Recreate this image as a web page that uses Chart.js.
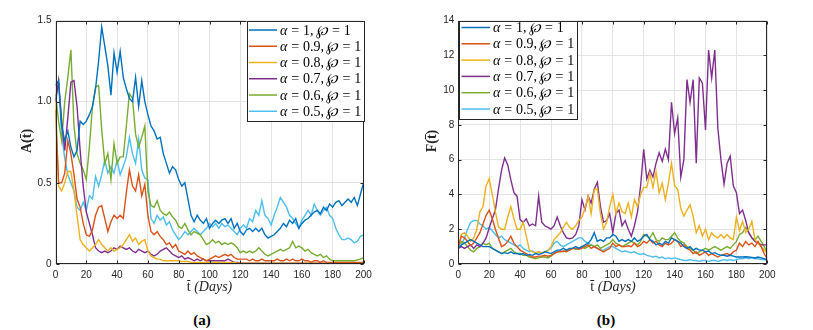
<!DOCTYPE html>
<html>
<head>
<meta charset="utf-8">
<script src="https://cdn.jsdelivr.net/npm/chart.js@4.4.0/dist/chart.umd.min.js"></script>
<style>
  body { margin: 0; background: #fff; width: 813px; height: 330px; position: relative; overflow: hidden; }
  .panel { position: absolute; top: 0; height: 300px; }
  canvas { display: block; }
  .lab { position: absolute; font-family: 'Liberation Serif', serif; font-size: 14px; color: #262626;
         transform: translate(-50%, -50%); white-space: nowrap; line-height: 16px; }
  .ylab { font-weight: bold; transform: translate(-50%, -50%) rotate(-90deg); }
  .bar { display: inline-block; border-top: 1px solid #262626; line-height: 9px; padding-top: 1px; vertical-align: baseline; }
  .cap { font-weight: bold; font-size: 15px; color: #000; }
</style>
</head>
<body>
<div class="panel" style="left:0;width:406px"><canvas id="chartA" width="406" height="300"></canvas></div>
<div class="panel" style="left:406px;width:407px"><canvas id="chartF" width="407" height="300"></canvas></div>

<div class="lab" style="left:209.5px;top:287px"><span class="bar">t</span> <i>(Days)</i></div>
<div class="lab" style="left:613px;top:287px"><span class="bar">t</span> <i>(Days)</i></div>
<div class="lab ylab" style="left:27px;top:141px">A(<span class="bar">t</span>)</div>
<div class="lab ylab" style="left:432px;top:141px">F(<span class="bar">t</span>)</div>
<div class="lab cap" style="left:202px;top:320px">(a)</div>
<div class="lab cap" style="left:606px;top:320px">(b)</div>

<script>
// time axis, every 2 days
const days = [0,2,4,6,8,10,12,14,16,18,20,22,24,26,28,30,32,34,36,38,40,42,44,46,48,50,52,54,56,58,60,
  62,64,66,68,70,72,74,76,78,80,82,84,86,88,90,92,94,96,98,100,102,104,106,108,110,112,114,116,118,120,
  122,124,126,128,130,132,134,136,138,140,142,144,146,148,150,152,154,156,158,160,
  162,164,166,168,170,172,174,176,178,180,182,184,186,188,190,192,194,196,198,200];

const alphas = ['1', '0.9', '0.8', '0.7', '0.6', '0.5'];
const colors = ['#0072BD', '#D95319', '#EDB120', '#7E2F8E', '#77AC30', '#4DBEEE'];

// panel (a): A(t)
const A_a1 = [1.10,1.13,0.85,0.76,0.82,0.72,0.66,0.70,0.88,0.86,0.88,
  0.92,0.97,1.08,1.25,1.46,1.34,1.22,1.04,1.30,1.18,
  1.31,1.15,1.08,1.02,1.00,1.15,0.97,1.13,1.00,0.92,
  0.85,0.82,0.77,0.78,0.68,0.62,0.56,0.60,0.58,0.52,
  0.48,0.50,0.40,0.30,0.26,0.30,0.27,0.25,0.28,0.22,
  0.25,0.27,0.25,0.27,0.28,0.25,0.28,0.22,0.25,0.20,
  0.18,0.21,0.22,0.20,0.22,0.20,0.22,0.18,0.16,0.17,
  0.18,0.20,0.22,0.25,0.23,0.27,0.25,0.28,0.22,0.25,
  0.27,0.28,0.30,0.32,0.33,0.31,0.35,0.33,0.37,0.35,
  0.38,0.39,0.36,0.38,0.40,0.38,0.41,0.36,0.43,0.50];
const A_a09 = [0.95,0.50,0.50,0.56,0.76,0.68,0.55,0.40,0.35,0.25,0.18,
  0.17,0.21,0.30,0.35,0.36,0.28,0.20,0.26,0.30,0.28,
  0.30,0.28,0.44,0.58,0.48,0.45,0.55,0.42,0.49,0.30,
  0.20,0.18,0.20,0.17,0.15,0.12,0.13,0.10,0.12,0.08,
  0.07,0.06,0.08,0.06,0.07,0.05,0.04,0.03,0.02,0.03,
  0.04,0.05,0.04,0.05,0.06,0.05,0.06,0.04,0.03,0.03,
  0.03,0.03,0.02,0.03,0.02,0.02,0.03,0.02,0.02,0.02,
  0.02,0.03,0.02,0.02,0.03,0.02,0.03,0.02,0.02,0.03,
  0.02,0.02,0.01,0.02,0.02,0.01,0.02,0.01,0.01,0.01,
  0.01,0.01,0.01,0.01,0.01,0.01,0.01,0.01,0.01,0.01];
const A_a08 = [1.00,0.48,0.45,0.50,0.57,0.57,0.45,0.30,0.15,0.12,0.10,
  0.08,0.10,0.12,0.15,0.12,0.10,0.08,0.10,0.08,0.09,
  0.10,0.12,0.15,0.18,0.14,0.16,0.12,0.14,0.15,0.08,
  0.05,0.04,0.03,0.03,0.02,0.02,0.02,0.02,0.02,0.02,
  0.015,0.015,0.015,0.01,0.01,0.01,0.01,0.01,0.01,0.01,
  0.01,0.01,0.01,0.01,0.01,0.01,0.01,0.01,0.005,0.005,
  0.005,0.005,0.005,0.005,0.005,0.005,0.005,0.005,0.005,0.005,
  0.005,0.005,0.005,0.005,0.005,0.005,0.005,0.005,0.005,0.005,
  0.005,0.005,0.005,0.005,0.005,0.005,0.005,0.005,0.005,0.005,
  0.005,0.005,0.005,0.005,0.005,0.005,0.005,0.005,0.005,0.005];
const A_a07 = [1.00,1.13,0.88,0.70,0.90,1.12,1.13,0.97,0.70,0.48,0.32,
  0.25,0.18,0.10,0.08,0.07,0.08,0.07,0.08,0.10,0.09,
  0.11,0.10,0.09,0.10,0.08,0.07,0.09,0.08,0.07,0.08,
  0.06,0.05,0.06,0.08,0.09,0.10,0.08,0.06,0.05,0.04,
  0.05,0.03,0.04,0.03,0.02,0.03,0.02,0.03,0.02,0.02,
  0.02,0.02,0.02,0.02,0.02,0.03,0.02,0.01,0.01,0.005,
  0.005,0.005,0.005,0.005,0.005,0.005,0.005,0.005,0.005,0.005,
  0.005,0.005,0.005,0.005,0.005,0.005,0.005,0.005,0.005,0.005,
  0.005,0.005,0.005,0.005,0.005,0.005,0.005,0.005,0.005,0.005,
  0.005,0.005,0.005,0.005,0.005,0.005,0.005,0.005,0.005,0.005];
const A_a06 = [1.05,0.88,0.76,1.00,1.15,1.32,0.85,0.68,0.62,0.58,0.52,
  0.72,0.97,1.09,1.10,0.83,0.62,0.68,0.52,0.74,0.62,
  0.66,0.66,0.85,1.05,1.02,0.80,0.72,0.78,0.85,0.45,
  0.36,0.35,0.39,0.33,0.31,0.30,0.32,0.29,0.27,0.23,
  0.22,0.25,0.21,0.18,0.20,0.19,0.18,0.15,0.12,0.13,
  0.15,0.13,0.14,0.12,0.13,0.12,0.13,0.12,0.10,0.07,
  0.08,0.07,0.08,0.07,0.08,0.10,0.08,0.06,0.05,0.06,
  0.07,0.08,0.09,0.08,0.09,0.10,0.14,0.10,0.11,0.10,
  0.08,0.09,0.07,0.06,0.05,0.06,0.04,0.05,0.03,0.02,
  0.02,0.02,0.02,0.02,0.02,0.02,0.02,0.025,0.03,0.04];
const A_a05 = [1.00,1.12,0.80,0.65,0.55,0.50,0.45,0.35,0.33,0.38,0.33,
  0.42,0.40,0.54,0.48,0.55,0.64,0.56,0.60,0.56,0.64,
  0.55,0.60,0.66,0.78,0.68,0.62,0.77,0.58,0.53,0.52,
  0.28,0.25,0.30,0.27,0.29,0.24,0.26,0.21,0.18,0.15,
  0.17,0.20,0.18,0.20,0.22,0.20,0.18,0.20,0.22,0.25,
  0.23,0.25,0.22,0.25,0.23,0.24,0.22,0.20,0.18,0.22,
  0.24,0.22,0.28,0.26,0.33,0.30,0.39,0.30,0.28,0.24,
  0.30,0.35,0.41,0.38,0.35,0.30,0.28,0.25,0.22,0.27,
  0.30,0.33,0.30,0.37,0.33,0.30,0.33,0.35,0.30,0.28,
  0.22,0.18,0.15,0.15,0.16,0.15,0.13,0.14,0.17,0.18];

// panel (b): F(t)
const F_a1 = [0.90,1.10,1.20,1.30,1.40,1.30,1.20,1.10,1.00,1.00,1.00,
  0.90,0.80,0.70,0.60,0.65,0.60,0.70,0.60,0.60,0.55,
  0.60,0.50,0.55,0.50,0.60,0.55,0.60,0.70,0.65,0.60,
  0.70,0.80,0.80,0.90,0.80,0.90,0.90,1.00,0.90,1.00,
  1.10,1.20,1.40,1.80,1.30,1.40,1.30,1.50,1.50,1.70,
  1.60,1.30,1.40,1.30,1.40,1.30,1.50,1.30,1.40,1.60,
  1.70,1.40,1.30,1.10,1.20,1.10,1.30,1.20,1.50,1.40,
  1.30,1.20,1.00,0.90,1.00,0.80,0.90,0.80,0.80,0.70,
  0.75,0.60,0.65,0.55,0.50,0.50,0.45,0.50,0.45,0.40,
  0.40,0.40,0.42,0.40,0.38,0.35,0.40,0.35,0.30,0.25];
const F_a09 = [1.00,1.60,1.50,1.30,1.05,1.20,1.50,1.80,2.30,2.80,3.10,
  2.60,2.00,1.50,1.00,1.10,1.30,1.60,1.20,1.00,0.80,
  0.70,0.60,0.50,0.40,0.40,0.45,0.45,0.50,0.45,0.50,
  0.60,0.70,0.70,0.75,0.70,0.80,0.90,0.90,0.85,0.90,
  1.00,1.10,0.90,1.00,0.90,0.80,0.70,0.80,0.90,1.20,
  1.00,1.10,1.00,1.00,1.05,1.00,1.20,1.00,1.10,1.30,
  1.20,1.40,1.20,1.30,1.10,1.00,1.20,1.10,1.20,1.40,
  1.30,1.00,1.10,0.90,0.80,0.60,0.70,0.50,0.60,0.70,
  0.50,0.60,0.50,0.40,0.50,0.55,0.60,0.50,0.70,0.80,
  1.20,1.00,1.30,1.10,1.20,1.00,1.30,1.00,0.60,0.30];
const F_a08 = [1.00,1.70,1.80,1.60,1.30,1.50,2.00,3.00,3.30,4.50,4.90,
  4.00,3.00,2.14,2.00,2.00,2.70,3.30,2.60,2.00,2.00,
  2.40,1.60,0.80,0.70,0.65,0.70,0.65,0.70,0.75,1.00,
  1.40,1.60,1.80,2.10,2.40,2.10,2.00,2.20,2.50,2.70,
  3.20,3.90,2.90,4.30,4.30,2.90,2.00,2.40,3.30,4.00,
  2.90,3.50,3.00,2.90,3.50,2.70,3.70,3.30,4.00,4.40,
  4.40,5.20,4.40,5.30,4.10,4.65,3.70,4.65,5.80,4.50,
  4.30,3.20,2.75,3.10,3.40,2.75,1.80,2.20,1.60,2.00,
  1.40,1.80,1.60,1.50,1.70,1.50,1.70,1.50,1.40,2.70,
  1.90,2.45,1.80,2.00,2.45,1.40,1.20,1.00,0.80,0.60];
const F_a07 = [0.90,1.00,0.90,1.00,1.10,0.90,1.10,1.00,1.20,1.50,2.07,
  2.60,3.10,4.30,5.40,6.10,5.70,4.85,4.10,3.90,2.55,
  2.40,2.60,2.20,2.30,2.20,3.90,2.40,2.20,2.10,2.00,
  2.20,2.70,2.20,1.80,1.50,1.45,1.50,1.70,2.20,3.70,
  3.10,3.90,3.50,4.30,4.70,3.30,2.40,2.50,2.90,1.80,
  2.90,3.10,2.20,2.50,2.00,1.60,2.20,3.00,4.50,6.60,
  4.90,5.40,5.00,5.80,6.40,5.90,6.60,6.00,9.30,7.50,
  8.40,5.00,6.00,10.60,9.30,10.60,5.80,10.70,10.40,7.70,
  12.30,10.70,12.30,7.80,6.00,4.60,5.80,6.20,4.50,4.10,
  2.90,3.10,2.50,1.80,1.50,1.30,1.20,1.10,1.10,1.10];
const F_a06 = [1.00,1.30,1.20,1.00,0.80,0.70,0.90,1.00,1.20,1.10,1.20,
  0.90,0.80,0.70,0.60,0.70,0.80,0.90,0.70,0.60,0.60,
  0.50,0.50,0.40,0.35,0.30,0.35,0.40,0.40,0.35,0.45,
  0.60,0.70,0.75,0.70,0.80,0.80,0.90,0.85,0.90,1.00,
  0.90,1.00,1.10,1.00,1.10,0.90,1.00,1.10,1.20,1.40,
  1.20,1.10,1.00,1.10,1.20,1.30,1.20,1.10,1.30,1.70,
  1.60,1.50,1.80,1.40,1.30,1.50,1.40,1.40,1.60,1.80,
  1.50,1.30,1.20,1.00,0.90,0.80,0.60,0.70,0.80,0.90,
  0.80,0.90,1.00,0.90,0.80,0.90,1.00,0.90,1.10,1.30,
  1.70,1.80,2.10,1.80,1.50,1.40,1.60,1.30,1.00,0.60];
const F_a05 = [0.90,1.10,1.50,2.00,2.40,2.50,2.50,2.30,2.20,2.00,2.10,
  1.90,1.70,1.50,1.60,1.40,1.30,1.20,1.10,1.00,1.10,
  0.90,0.80,0.70,0.75,0.60,0.70,0.60,0.70,0.80,0.90,
  1.20,1.30,1.10,1.00,1.10,1.20,1.30,1.40,1.50,1.50,
  1.30,1.20,1.10,1.00,0.90,0.80,0.80,0.90,1.00,1.00,
  0.90,0.80,0.70,0.75,0.70,0.65,0.70,0.60,0.55,0.60,
  0.50,0.45,0.40,0.45,0.35,0.40,0.30,0.35,0.30,0.35,
  0.30,0.25,0.20,0.20,0.25,0.20,0.20,0.15,0.20,0.20,
  0.15,0.20,0.20,0.15,0.20,0.25,0.20,0.25,0.20,0.25,
  0.30,0.30,0.35,0.30,0.35,0.30,0.30,0.25,0.25,0.20];

const seriesA = [A_a1, A_a09, A_a08, A_a07, A_a06, A_a05];
const seriesF = [F_a1, F_a09, F_a08, F_a07, F_a06, F_a05];

// box round the axes with inward ticks on all four sides (MATLAB look)
const framePlugin = {
  id: 'frame',
  afterDraw(chart) {
    const { ctx, chartArea: a, scales: { x, y } } = chart;
    const L = Math.round(a.left) + 0.5, R = Math.round(a.right) - 0.5;
    const T = Math.round(a.top) + 0.5, B = Math.round(a.bottom) - 0.5;
    ctx.save();
    ctx.strokeStyle = '#262626';
    ctx.lineWidth = 1;
    ctx.beginPath();
    x.ticks.forEach(t => {
      const px = Math.round(x.getPixelForValue(t.value)) + 0.5;
      ctx.moveTo(px, B); ctx.lineTo(px, B - 3);
      ctx.moveTo(px, T); ctx.lineTo(px, T + 3);
    });
    y.ticks.forEach(t => {
      const py = Math.round(y.getPixelForValue(t.value)) + 0.5;
      ctx.moveTo(L, py); ctx.lineTo(L + 3, py);
      ctx.moveTo(R, py); ctx.lineTo(R - 3, py);
    });
    ctx.stroke();
    ctx.strokeRect(L, T, R - L, B - T);
    ctx.restore();
  }
};

// legend box drawn inside the plot area
const legendPlugin = {
  id: 'boxLegend',
  afterDraw(chart, args, o) {
    const ctx = chart.ctx;
    ctx.save();
    ctx.fillStyle = '#fff';
    ctx.fillRect(o.x, o.y, o.w, o.h);
    ctx.strokeStyle = '#262626';
    ctx.lineWidth = 1;
    ctx.strokeRect(Math.round(o.x) + 0.5, Math.round(o.y) + 0.5, Math.round(o.w) - 1, Math.round(o.h) - 1);
    const fs = 14;
    const it = `italic ${fs}px 'Liberation Serif', 'DejaVu Serif', serif`;
    const rm = `${fs}px 'Liberation Serif', 'DejaVu Serif', serif`;
    const gEq = fs * 0.28, gCm = fs * 0.17;
    chart.data.datasets.forEach((ds, i) => {
      const cy = o.rowY + i * o.rowH;
      ctx.strokeStyle = ds.borderColor;
      ctx.lineWidth = 1.5;
      ctx.beginPath();
      ctx.moveTo(o.lineX0, cy); ctx.lineTo(o.lineX1, cy);
      ctx.stroke();
      ctx.fillStyle = '#000';
      ctx.textBaseline = 'alphabetic';
      let tx = o.textX;
      const by = cy + 4.5;
      const seg = (s, f, gapAfter) => { ctx.font = f; ctx.fillText(s, tx, by); tx += ctx.measureText(s).width + gapAfter; };
      seg('\u03B1', it, gEq);
      seg('=', rm, gEq);
      seg(alphas[i] + ',', rm, gCm);
      seg('\u2118', it, gEq);
      seg('=', rm, gEq);
      seg('1', rm, 0);
    });
    ctx.restore();
  }
};

function makePanel(id, series, yMax, yStep, padRight, yAxisW, legend) {
  const datasets = series.map((vals, i) => ({
    label: '\u03B1 = ' + alphas[i] + ', \u2118 = 1',
    data: days.map((d, k) => ({ x: d, y: vals[k] })),
    borderColor: colors[i],
    borderWidth: 1.4,
    pointRadius: 0,
    tension: 0,
    fill: false
  }));
  new Chart(document.getElementById(id), {
    type: 'line',
    data: { datasets },
    options: {
      responsive: false,
      animation: false,
      layout: { padding: { left: 0, right: padRight, top: 20.5, bottom: 0 } },
      plugins: {
        legend: { display: false },
        tooltip: { enabled: false },
        boxLegend: legend
      },
      scales: {
        x: {
          type: 'linear', min: 0, max: 200,
          afterFit: s => { s.height = 36; },
          grid: { color: '#e3e3e3', drawTicks: false },
          border: { display: false },
          ticks: { stepSize: 20, maxRotation: 0, autoSkip: false, padding: 5, color: '#262626',
                   font: { family: "'Liberation Sans', Arial, sans-serif", size: 10 } }
        },
        y: {
          min: 0, max: yMax,
          afterFit: s => { s.width = yAxisW; },
          grid: { color: '#e3e3e3', drawTicks: false },
          border: { display: false },
          ticks: { stepSize: yStep, padding: 4, color: '#262626',
                   font: { family: "'Liberation Sans', Arial, sans-serif", size: 10 } }
        }
      }
    },
    plugins: [framePlugin, legendPlugin]
  });
}

makePanel('chartA', seriesA, 1.5, 0.5, 42.5, 55.5,
  { x: 246.5, y: 20.5, w: 117.5, h: 100.5, rowY: 30, rowH: 16.25, lineX0: 249, lineX1: 277, textX: 280 });
makePanel('chartF', seriesF, 14, 2, 45.7, 52.3,
  { x: 53, y: 20.5, w: 118.5, h: 98.5, rowY: 27.5, rowH: 16.3, lineX0: 55.5, lineX1: 84, textX: 87 });
</script>
</body>
</html>
